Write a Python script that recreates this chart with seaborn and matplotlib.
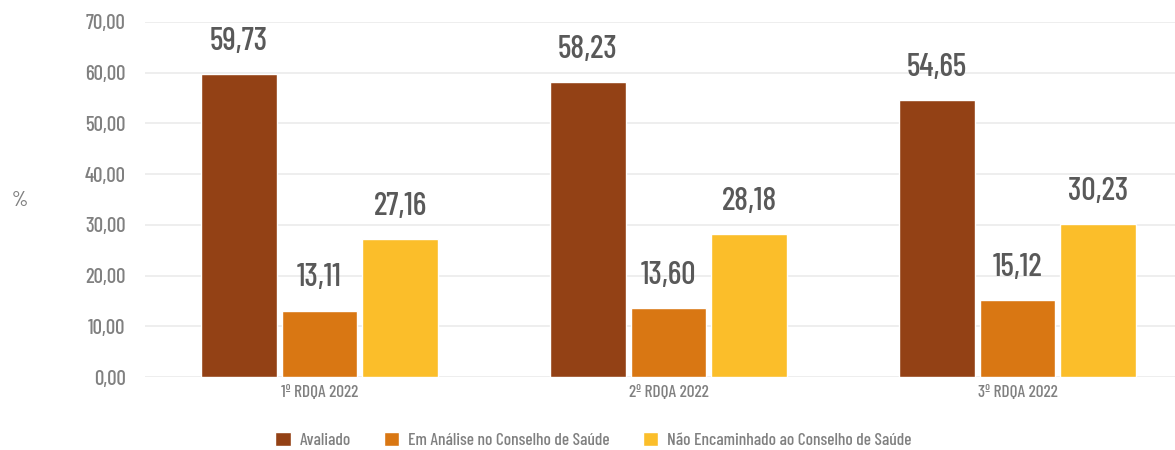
import pandas as pd
import matplotlib
matplotlib.use("Agg")
import matplotlib.pyplot as plt
import seaborn as sns

# Data
periods = ['1º RDQA 2022', '2º RDQA 2022', '3º RDQA 2022']
series = ['Avaliado', 'Em Análise no Conselho de Saúde',
          'Não Encaminhado ao Conselho de Saúde']
avaliado = [59.73, 58.23, 54.65]
em_analise = [13.11, 13.60, 15.12]
nao_encaminhado = [27.16, 28.18, 30.23]
y_ticks = [0, 10, 20, 30, 40, 50, 60, 70]

colors = ['#934115', '#D97713', '#FBBE2A']


def fmt(v):
    return f"{v:.2f}".replace('.', ',')


def main():
    sns.set_style("white")
    plt.rcParams['font.family'] = ['Barlow Condensed', 'Roboto Condensed', 'DejaVu Sans']
    plt.rcParams['font.weight'] = 500

    df = pd.DataFrame({
        'periodo': periods * 3,
        'serie': [series[0]] * 3 + [series[1]] * 3 + [series[2]] * 3,
        'valor': avaliado + em_analise + nao_encaminhado,
    })

    fig = plt.figure(figsize=(11.75, 4.5), dpi=100)
    ax = fig.add_axes([0.1234, 0.1622, 0.891, 0.789])

    sns.barplot(data=df, x='periodo', y='valor', hue='serie', order=periods,
                hue_order=series, palette=colors, width=0.693, gap=0.06,
                saturation=1, errorbar=None, ax=ax, legend=True)

    ax.set_xlim(-0.5, 2.5)
    ax.set_ylim(0, 70)
    ax.set_yticks(y_ticks)
    ax.set_yticklabels([fmt(t) for t in y_ticks], fontsize=15, color='#808080')
    ax.tick_params(axis='x', labelsize=12.5, labelcolor='#808080', length=0, pad=6)
    ax.tick_params(axis='y', length=0, pad=14)
    ax.set_xlabel('')
    ax.set_ylabel('')
    ax.grid(axis='y', color='#ebebeb', linewidth=1.2)
    ax.set_axisbelow(True)
    for s in ax.spines.values():
        s.set_visible(False)

    # value labels above bars
    for cont in ax.containers:
        for bar in cont:
            h = bar.get_height()
            ax.annotate(fmt(h), (bar.get_x() + bar.get_width() / 2, h),
                        xytext=(0, 13), textcoords='offset points',
                        ha='center', va='bottom', fontsize=23, color='#595959')

    handles, labels = ax.get_legend_handles_labels()
    ax.get_legend().remove()
    fig.legend(handles, labels, loc='center', bbox_to_anchor=(0.505, 0.022),
               ncol=3, frameon=False, fontsize=12.5, handlelength=0.9,
               handleheight=0.9, handletextpad=0.5, columnspacing=1.9,
               labelcolor='#808080')

    fig.text(20 / 1175, 1 - 200 / 450, '%', fontsize=15, color='#808080',
             ha='center', va='center')

    fig.savefig('out.png', dpi=100)
    plt.close(fig)


if __name__ == "__main__":
    main()
